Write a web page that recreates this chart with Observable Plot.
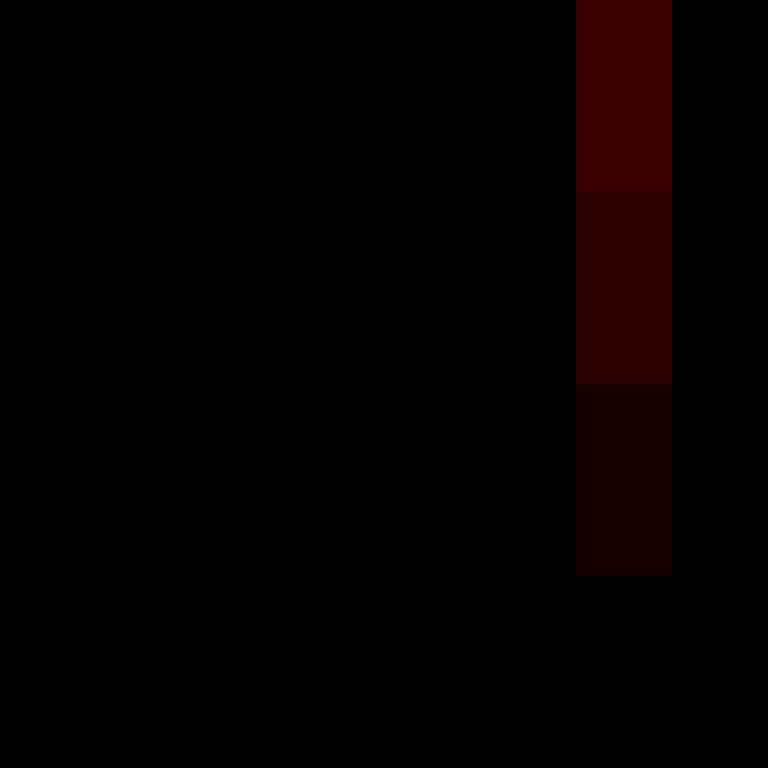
<!DOCTYPE html>
<html>
<head>
<meta charset="utf-8">
<script src="https://cdn.jsdelivr.net/npm/d3@7"></script>
<script src="https://cdn.jsdelivr.net/npm/@observablehq/plot@0.6"></script>
<style>
  html, body { margin: 0; padding: 0; background: #000; }
  #chart svg { display: block; }
</style>
</head>
<body>
<div id="chart"></div>
<script>
// Grid categories: 8 columns x 4 rows
const cols = ["c0", "c1", "c2", "c3", "c4", "c5", "c6", "c7"];
const rows = ["r0", "r1", "r2", "r3"];
// Cell intensities (row-major), 0 = black, 1 = full red
const r0 = [0, 0, 0, 0, 0, 0, 0.22, 0];
const r1 = [0, 0, 0, 0, 0, 0, 0.17, 0];
const r2 = [0, 0, 0, 0, 0, 0, 0.09, 0];
const r3 = [0, 0, 0, 0, 0, 0, 0, 0];
const values = [r0, r1, r2, r3];

const data = [];
rows.forEach((r, i) => cols.forEach((c, j) => data.push({row: r, col: c, v: values[i][j]})));

const chart = Plot.plot({
  width: 768,
  height: 768,
  margin: 0,
  style: {background: "#000"},
  x: {domain: cols, padding: 0, axis: null},
  y: {domain: rows, padding: 0, axis: null},
  color: {type: "linear", domain: [0, 1], range: ["#000000", "#ff0000"], interpolate: "rgb"},
  marks: [
    Plot.cell(data, {x: "col", y: "row", fill: "v", inset: 0, shapeRendering: "crispEdges"})
  ]
});
document.getElementById("chart").append(chart);
</script>
</body>
</html>
